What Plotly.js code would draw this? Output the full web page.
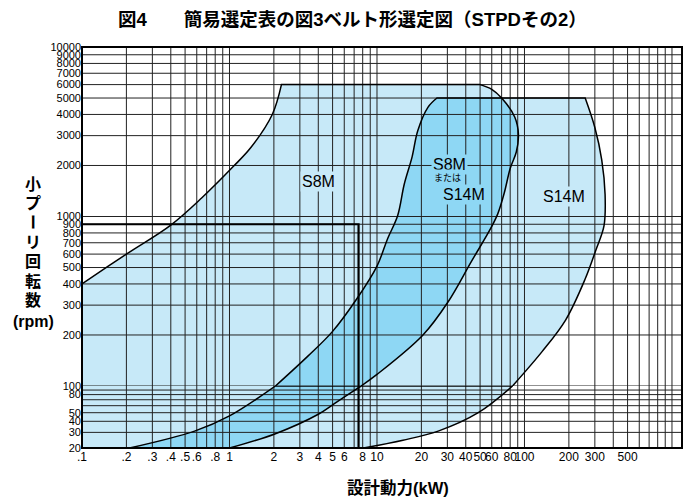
<!DOCTYPE html>
<html><head><meta charset="utf-8">
<script src="https://cdn.plot.ly/plotly-3.0.1.min.js"></script>
<style>html,body{margin:0;padding:0;background:#fff}#chart{width:688px;height:501px}</style>
</head><body><div id="chart"></div>
<script>
// ---------- tick values / labels ----------
const xTickVals = [0.1,0.2,0.3,0.4,0.5,0.6,0.7,0.8,0.9,1,2,3,4,5,6,7,8,9,10,20,30,40,50,60,70,80,90,100,200,300,400,500,600,700,800,900,1000];
const xTickText = ['.1','.2','.3','.4','.5','.6','','.8','','1','2','3','4','5','6','','8','','10','20','30','40','50','60','','80','','100','200','300','','500','','','','',''];
const yUpperTickVals = [100,200,300,400,500,600,700,800,900,1000,2000,3000,4000,5000,6000,7000,8000,9000,10000];
const yUpperTickText = ['100','200','300','400','500','600','700','800','900','1000','2000','3000','4000','5000','6000','7000','8000','9000','10000'];
const yLowerTickVals = [20,30,40,50,60,70,80,90];
const yLowerTickText = ['20','30','40','50','','','80',''];

// ---------- region boundaries (kW, rpm) ----------
const s8mLeftKW   = [0.1,0.2,0.4,0.65,1.06,1.4,1.95,2.25];
const s8mLeftRPM  = [400,600,890,1290,1970,2560,4000,6000];
const s8mRightKW  = [50,60,70,86,91,88,80,73,66,59,43.5,30.3,20.5,10,7.8,5.2,4,2.05,1];
const s8mRightRPM = [6000,5630,5000,3850,3050,2400,1920,1380,1040,850,540,313,200,117,100,64,48,29,20];
const s14mLeftKW   = [0.21,0.58,1,2.05,3.4,5,7.3,10,11.8,13.8,15.3,17.3,18.9,22.2,25.5];
const s14mLeftRPM  = [20,31,46,100,150,210,327,510,740,1010,1550,2250,3210,4420,5000];
const s14mRightKW  = [258,300,334,352,346,305,257,190,132,83,48.6,26,15,8.1];
const s14mRightRPM = [5000,3350,2160,1350,880,635,425,245,160,100,50,31,24.5,20];

// example reading line (7.5 kW at 900 rpm)
const exampleKW  = [0.1,7.5,7.5,7.5];
const exampleRPM = [900,900,100,20];

// region labels
const labelText = ['S8M','S8M','または','S14M','S14M'];
const labelKW   = [4,31,30,38.7,185];
const labelRPM  = [1600,2040,1690,1355,1318];

// ---------- styles ----------
const LIGHT = '#c7e9f8', DARK = '#8ed7f4';
const LATIN = '"Liberation Sans", Arial, sans-serif';
const MIXED = '"Liberation Sans", "Noto Sans CJK JP", sans-serif';
const CJK = '"Noto Sans CJK JP", sans-serif';
const labelSize = [16,16,9,16,16];
const labelBg = [LIGHT,DARK,DARK,DARK,LIGHT];

const Y_SPLIT = 100;
const xRange = [-1, 3.068];
const yUpperRange = [Math.log10(Y_SPLIT), Math.log10(10000)];
const yLowerRange = [Math.log10(yLowerTickVals[0]), Math.log10(Y_SPLIT)];
const xLo = Math.pow(10, xRange[0]), xHi = Math.pow(10, xRange[1]);
const xMin = xTickVals[0], yMin = yLowerTickVals[0], yMax = 10000;
const splitFrac = 62/401;

// points with a "sharp corner" flag
function pts(xs, ys){ return xs.map((x,i)=>[x, ys[i], false]); }
function sharpEnds(p){ const q = p.map(a=>a.slice()); q[0][2]=true; q[q.length-1][2]=true; return q; }
const L1 = sharpEnds(pts(s8mLeftKW, s8mLeftRPM));
const L3 = sharpEnds(pts(s8mRightKW, s8mRightRPM));
const L2 = sharpEnds(pts(s14mLeftKW, s14mLeftRPM));
const L4 = sharpEnds(pts(s14mRightKW, s14mRightRPM));

function pick(p, upper){
  return p.filter(a => upper ? a[1]>=Y_SPLIT : a[1]<=Y_SPLIT)
          .map(a => [a[0], a[1], a[2] || a[1]===Y_SPLIT]);
}
function expand(p){
  const x=[], y=[];
  p.forEach(a=>{ x.push(a[0]); y.push(a[1]); if(a[2]){ x.push(a[0]); y.push(a[1]); } });
  return [x,y];
}
const traces = [];
function addFill(p, color){
  [[true,'y'],[false,'y2']].forEach(([up,ax])=>{
    const q = pick(p, up);
    if(q.length>2){ const [x,y] = expand(q);
      traces.push({type:'scatter',mode:'lines',x:x,y:y,xaxis:'x',yaxis:ax,fill:'toself',fillcolor:color,
        line:{width:0,color:'rgba(0,0,0,0)',shape:'spline',smoothing:1,simplify:false},hoverinfo:'skip',showlegend:false}); }
  });
}
function addOutline(p, width){
  [[true,'y'],[false,'y2']].forEach(([up,ax])=>{
    const q = pick(p, up);
    if(q.length>1){ const [x,y] = expand(q);
      traces.push({type:'scatter',mode:'lines',x:x,y:y,xaxis:'x',yaxis:ax,
        line:{width:width,color:'#000',shape:'spline',smoothing:1,simplify:false},hoverinfo:'skip',showlegend:false}); }
  });
}
function addGrid(yVals, y0, y1, ax){
  const gx=[], gy=[];
  xTickVals.forEach(v=>{ gx.push(v,v,null); gy.push(y0,y1,null); });
  yVals.forEach(v=>{ gx.push(xLo,xHi,null); gy.push(v,v,null); });
  traces.push({type:'scatter',mode:'lines',x:gx,y:gy,xaxis:'x',yaxis:ax,
    line:{width:1,color:'#222'},hoverinfo:'skip',showlegend:false});
}

// polygons
const s8mPoly = [[xMin,yMin,true],[xMin,Y_SPLIT,true]].concat(L1, L3);
const s14mPoly = L2.concat(L4);
const capRPM = s14mLeftRPM[s14mLeftRPM.length-1];
const L3cap = L3.filter(a=>a[1]<=capRPM).map((a,i)=> i===0 ? [a[0],a[1],true] : a);
const ovPoly = L2.concat(L3cap);

addFill(s8mPoly, LIGHT);
addFill(s14mPoly, LIGHT);
addFill(ovPoly, DARK);
addGrid(yUpperTickVals, Y_SPLIT, yMax, 'y');
addGrid(yLowerTickVals, yMin, Y_SPLIT, 'y2');
addOutline(L1.concat(L3), 1.5);
addOutline(L2.concat(L4), 1.5);
[[true,'y'],[false,'y2']].forEach(([up,ax])=>{
  const xs=[], ys=[];
  exampleKW.forEach((v,i)=>{ const r=exampleRPM[i]; if(up ? r>=Y_SPLIT : r<=Y_SPLIT){ xs.push(v); ys.push(r); } });
  traces.push({type:'scatter',mode:'lines',x:xs,y:ys,xaxis:'x',yaxis:ax,line:{width:2.2,color:'#000'},hoverinfo:'skip',showlegend:false});
});

const annotations = labelText.map((t,i)=>({
  text:t, xref:'x', yref:'y', x:Math.log10(labelKW[i]), y:Math.log10(labelRPM[i]),
  showarrow:false, font:{size:labelSize[i], family:(i===2?CJK:LATIN), color:'#000'},
  bgcolor:labelBg[i], borderpad:1, xanchor:'center', yanchor:'middle'
}));

// y-axis title, stacked vertically
const yTitleChars = ['小','プ','ー','リ','回','転','数','(rpm)'];
const yTitlePx = [184,203,222,242,261,281,300,321];
yTitleChars.forEach((c,i)=>{
  annotations.push({text:c, xref:'paper', yref:'paper', x:(33-82)/600, y:(448-yTitlePx[i])/401,
    showarrow:false, xanchor:'center', yanchor:'middle', textangle:(c==='ー'?90:0),
    font:{size:16, family:MIXED, weight:'bold', color:'#000'}});
});
// x-axis title
annotations.push({text:'設計動力(kW)', xref:'paper', yref:'paper', x:(398-82)/600, y:(448-488)/401,
  showarrow:false, xanchor:'center', yanchor:'middle', font:{size:16.5, family:MIXED, weight:'bold', color:'#000'}});

const axisCommon = {type:'log', tickmode:'array', showgrid:false, zeroline:false, showline:false, ticks:'',
  tickfont:{size:12, family:LATIN, color:'#000'}, fixedrange:true};

const layout = {
  width:688, height:501, margin:{l:82,r:6,t:47,b:53},
  paper_bgcolor:'#fff', plot_bgcolor:'#fff', showlegend:false, hovermode:false,
  font:{family:MIXED, color:'#000'},
  title:{text:'図4　　簡易選定表の図3ベルト形選定図（STPDその2）',
    font:{family:MIXED, size:18.5, weight:'bold', color:'#000'},
    xref:'container', x:118/688, xanchor:'left', yref:'container', y:1-20/501, yanchor:'middle'},
  xaxis:Object.assign({}, axisCommon, {range:xRange, tickvals:xTickVals, ticktext:xTickText, tickangle:0, anchor:'y2'}),
  yaxis:Object.assign({}, axisCommon, {range:yUpperRange, domain:[splitFrac,1], tickvals:yUpperTickVals, ticktext:yUpperTickText, anchor:'x', tickfont:{size:11, family:LATIN, color:'#000'}}),
  yaxis2:Object.assign({}, axisCommon, {range:yLowerRange, domain:[0,splitFrac], tickvals:yLowerTickVals, ticktext:yLowerTickText, anchor:'x', tickfont:{size:11, family:LATIN, color:'#000'}}),
  shapes:[{type:'rect', xref:'paper', yref:'paper', x0:0, x1:1, y0:0, y1:1, line:{color:'#000', width:2}, layer:'above'}],
  annotations:annotations
};
Plotly.newPlot('chart', traces, layout, {staticPlot:true, displayModeBar:false});
</script>
</body></html>
